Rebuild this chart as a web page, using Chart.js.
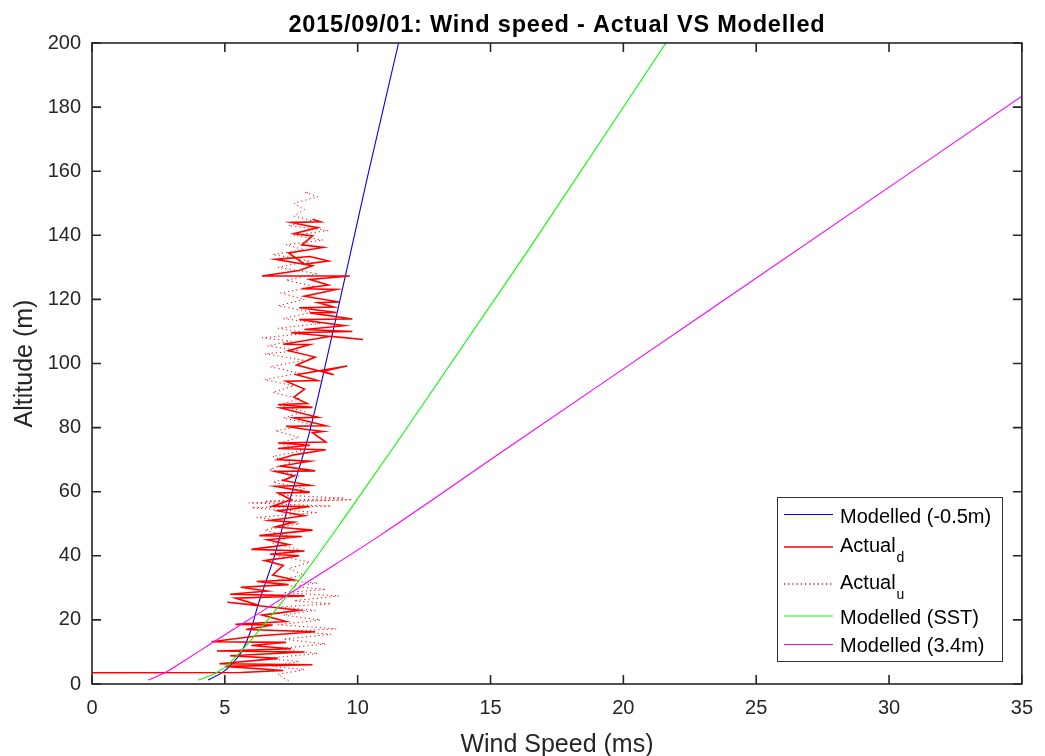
<!DOCTYPE html>
<html><head><meta charset="utf-8">
<script src="https://cdn.jsdelivr.net/npm/chart.js@4/dist/chart.umd.min.js"></script>
<style>html,body{margin:0;padding:0;background:#fff}#wrap{width:1045px;height:756px}</style>
</head><body><div id="wrap"><canvas id="c" width="1045" height="756"></canvas></div>
<script>
const titleText = "2015/09/01: Wind speed - Actual VS Modelled";
const xAxisTitle = "Wind Speed (ms)";
const yAxisTitle = "Altitude (m)";
const xMin = 0, xMax = 35, xStep = 5;
const yMin = 0, yMax = 200, yStep = 20;
const legendLabels = ["Modelled (-0.5m)", "Actual", "Actual", "Modelled (SST)", "Modelled (3.4m)"];
const legendSubs = ["", "d", "u", "", ""];
const seriesColors = ["#0000ff", "#ff0000", "#ff0000", "#00ff00", "#ff00ff"];

// Modelled (-0.5m)
const blueX = [4.37, 4.94, 5.35, 5.63, 5.95, 6.25, 6.55, 6.88, 7.5, 8.2, 8.66, 9.3, 10.35, 11.54];
const blueY = [1.25, 3.8, 7.0, 10.1, 16.0, 24.7, 32.0, 40.3, 59.0, 79.0, 95.0, 118.5, 157.5, 200];
// Modelled (SST)
const greenX = [4.0, 4.5, 5.0, 5.56, 6.2, 7.0, 8.0, 9.45, 11.58, 16.44, 21.6];
const greenY = [1.25, 2.8, 5.2, 9.8, 15.8, 24.0, 34.6, 51.3, 76.6, 135.6, 200];
// Modelled (3.4m)
const magX = [2.12, 2.81, 3.46, 4.56, 6.44, 8.32, 10.83, 15.53, 22.86, 35.0];
const magY = [1.25, 3.8, 7.2, 13.0, 22.9, 32.9, 46.3, 73.0, 114.5, 183.4];
// Actual (d)
const actualDX = [0,5.6,7.2,5.0,8.3,4.8,7.0,5.2,8.0,4.7,7.5,6.0,7.3,4.5,6.2,8.4,5.8,6.8,5.4,7.3,6.4,7.8,5.1,6.3,5.4,8.0,5.2,6.6,5.6,7.4,6.2,7.6,6.8,7.2,6.5,7.8,6.7,8.0,6.0,7.4,6.6,7.9,6.3,8.3,6.9,7.6,6.7,8.0,7.0,8.2,6.8,7.5,7.0,8.2,6.9,8.2,7.2,7.6,6.9,8.4,7.1,8.2,7.0,7.6,8.8,7.0,8.2,7.0,8.8,8.3,8.7,8.0,7.3,8.8,7.6,8.5,7.1,8.3,7.0,8.1,7.6,8.0,7.3,8.5,7.7,9.6,8.7,9.1,7.7,8.4,7.4,8.2,7.2,9.0,10.2,7.5,9.8,8.0,9.5,7.8,9.8,8.2,9.2,7.8,9.1,8.5,9.3,8.0,9.2,7.9,8.9,8.2,9.7,6.4,7.8,8.3,6.9,8.2,8.9,8.0,7.4,8.7,7.9,8.3,7.6,8.5,8.1,7.5,8.6,8.3];
const actualDY = [3.5,3.6,4.2,5.5,6.0,6.3,8.0,8.8,10.0,10.3,11.0,12.0,13.0,13.2,15.0,16.3,17.0,18.4,18.6,19.5,21.5,23.0,25.5,24.5,26.8,27.5,28.0,29.0,30.2,31.0,32.0,32.5,34.0,37.0,38.5,40.0,40.5,41.5,42.0,43.5,45.0,46.0,46.3,48.0,49.0,50.5,51.0,52.5,54.0,55.4,55.5,57.5,59.6,59.8,61.7,62.0,63.5,65.0,66.3,66.5,68.0,69.5,70.0,71.5,73.1,73.5,74.5,75.2,75.5,78.4,78.8,79.5,80.4,80.6,83.0,83.2,86.1,86.3,87.2,87.5,89.5,92.0,94.5,94.7,96.5,99.2,97.6,96.5,99.5,102.0,104.0,105.9,106.0,108.5,107.5,109.6,110.0,110.6,111.8,113.75,113.9,115.8,115.9,117.4,117.6,119.0,119.2,121.0,123.1,123.3,124.5,126.2,127.3,127.3,129.0,130.5,132.5,133.4,132.0,131.0,134.5,136.2,137.0,139.8,140.5,142.4,143.0,144.0,144.2,145.0];
// Actual (u)
const actualUX = [7.4,7.0,8.0,6.8,7.8,6.5,8.5,7.0,8.8,7.2,9.0,7.5,9.2,7.0,8.6,7.2,8.4,7.0,9.0,7.6,9.3,7.2,8.8,7.5,8.5,7.0,8.0,7.4,8.2,7.0,7.8,6.8,7.5,6.5,7.8,6.2,8.5,6.0,9.0,5.9,9.8,6.5,9.5,7.0,8.0,6.8,7.8,6.7,7.5,6.8,8.0,7.0,7.8,6.9,8.3,7.2,8.0,7.0,7.8,6.8,7.6,6.5,7.8,6.7,8.0,6.5,7.8,6.6,7.5,6.4,8.2,7.0,8.6,7.2,8.3,7.0,8.0,7.1,8.4,7.3,8.5,7.0,8.2,6.8,8.0,7.3,8.7,7.6,8.9,7.4,8.3,7.6,8.0,7.6,8.5,8.0,8.2];
const actualUY = [1.0,3.0,4.5,5.5,7.0,8.0,9.5,11.0,12.5,14.0,15.5,16.5,17.2,18.5,20.0,21.5,23.0,24.0,25.0,26.0,27.5,28.5,29.5,30.5,31.5,32.5,34.0,36.0,38.0,40.0,42.0,44.0,46.0,48.0,50.0,52.0,53.5,55.0,55.5,56.5,57.5,57.0,58.0,59.0,61.0,63.0,65.0,67.0,69.0,71.0,73.0,75.0,77.0,79.0,81.0,83.0,85.0,87.0,89.0,91.0,93.0,95.0,97.0,99.0,101.0,103.0,104.0,105.5,107.0,108.0,109.5,111.0,112.5,114.0,116.0,118.0,120.0,122.0,124.0,126.0,128.0,130.0,132.0,134.0,135.5,137.0,138.5,140.0,141.5,143.0,144.5,146.0,148.0,150.0,152.0,153.5,153.0];

const pts = (xs, ys) => xs.map((x, i) => ({x, y: ys[i]}));
const FONT = "'Liberation Sans', Arial, Helvetica, sans-serif";
const AX = '#262626';

const series = [
  {label: legendLabels[0], data: pts(blueX, blueY), borderWidth: 1.1, dash: [], order: 5, smooth: true, lw: 1.2},
  {label: legendLabels[1], data: pts(actualDX, actualDY), borderWidth: 1.6, dash: [], order: 4, smooth: false, lw: 1.6},
  {label: legendLabels[2], data: pts(actualUX, actualUY), borderWidth: 1, dash: [1.2, 3], order: 3, smooth: false, lw: 1.4},
  {label: legendLabels[3], data: pts(greenX, greenY), borderWidth: 1.1, dash: [], order: 2, smooth: true, lw: 1.2},
  {label: legendLabels[4], data: pts(magX, magY), borderWidth: 1.1, dash: [], order: 1, smooth: true, lw: 1.2}
];

const decor = {
  id: 'decor',
  afterDraw(chart) {
    const ctx = chart.ctx, a = chart.chartArea, xs = chart.scales.x, ys = chart.scales.y;
    ctx.save();
    ctx.strokeStyle = AX; ctx.lineWidth = 1.6; ctx.setLineDash([]);
    ctx.strokeRect(a.left, a.top, a.right - a.left, a.bottom - a.top);
    const tl = 9;
    ctx.beginPath();
    for (let v = xMin; v <= xMax; v += xStep) {
      const px = xs.getPixelForValue(v);
      ctx.moveTo(px, a.bottom); ctx.lineTo(px, a.bottom - tl);
      ctx.moveTo(px, a.top); ctx.lineTo(px, a.top + tl);
    }
    for (let v = yMin; v <= yMax; v += yStep) {
      const py = ys.getPixelForValue(v);
      ctx.moveTo(a.left, py); ctx.lineTo(a.left + tl, py);
      ctx.moveTo(a.right, py); ctx.lineTo(a.right - tl, py);
    }
    ctx.stroke();
    ctx.fillStyle = '#000';
    ctx.font = 'bold 23.5px ' + FONT;
    ctx.textAlign = 'center'; ctx.textBaseline = 'alphabetic';
    try { ctx.letterSpacing = '0.8px'; } catch (e) {}
    ctx.fillText(titleText, (a.left + a.right) / 2, 32);
    try { ctx.letterSpacing = '0px'; } catch (e) {}
    ctx.fillStyle = AX;
    ctx.font = '25px ' + FONT;
    ctx.fillText(xAxisTitle, (a.left + a.right) / 2, 751.5);
    ctx.save();
    ctx.translate(31.5, (a.top + a.bottom) / 2);
    ctx.rotate(-Math.PI / 2);
    ctx.fillText(yAxisTitle, 0, 0);
    ctx.restore();
    // legend
    const L = {x: 777, y: 497, w: 225, h: 164};
    ctx.fillStyle = '#fff';
    ctx.fillRect(L.x, L.y, L.w, L.h);
    ctx.strokeStyle = '#333'; ctx.lineWidth = 1;
    ctx.strokeRect(L.x + 0.5, L.y + 0.5, L.w, L.h);
    const lineYs = [514.5, 547, 584, 616, 644.5];
    const baseYs = [522.7, 551.7, 589.3, 624, 652.3];
    ctx.textAlign = 'left';
    for (let i = 0; i < legendLabels.length; i++) {
      ctx.save();
      ctx.beginPath();
      ctx.strokeStyle = seriesColors[i];
      ctx.lineWidth = series[i].lw;
      ctx.setLineDash(series[i].dash);
      ctx.moveTo(784, lineYs[i]); ctx.lineTo(833, lineYs[i]);
      ctx.stroke();
      ctx.restore();
      ctx.fillStyle = '#000';
      ctx.font = '20px ' + FONT;
      ctx.fillText(legendLabels[i], 840, baseYs[i]);
      if (legendSubs[i]) {
        const w = ctx.measureText(legendLabels[i]).width;
        ctx.font = '14px ' + FONT;
        ctx.fillText(legendSubs[i], 840 + w + 1, baseYs[i] + 10);
      }
    }
    ctx.restore();
  }
};

new Chart(document.getElementById('c'), {
  type: 'scatter',
  data: {
    datasets: series.map((s, i) => ({
      label: s.label, data: s.data, showLine: true, borderColor: seriesColors[i],
      backgroundColor: seriesColors[i], borderWidth: s.borderWidth, borderDash: s.dash.slice(),
      pointRadius: 0, pointHoverRadius: 0, tension: 0, order: s.order, fill: false,
      cubicInterpolationMode: s.smooth ? 'monotone' : 'default'
    }))
  },
  options: {
    responsive: false, animation: false, devicePixelRatio: 1,
    layout: {padding: {top: 43, right: 21, left: 0, bottom: 0}},
    plugins: {legend: {display: false}, title: {display: false}, tooltip: {enabled: false}},
    scales: {
      x: {
        type: 'linear', min: xMin, max: xMax,
        ticks: {stepSize: xStep, color: AX, font: {family: FONT, size: 20}, padding: 12, maxRotation: 0, autoSkip: false},
        grid: {display: false, drawTicks: false}, border: {display: false},
        afterFit(s) { s.height = 72; }
      },
      y: {
        type: 'linear', min: yMin, max: yMax,
        ticks: {stepSize: yStep, color: AX, font: {family: FONT, size: 20}, padding: 11, autoSkip: false},
        grid: {display: false, drawTicks: false}, border: {display: false},
        afterFit(s) { s.width = 92; }
      }
    }
  },
  plugins: [decor]
});
</script></body></html>
